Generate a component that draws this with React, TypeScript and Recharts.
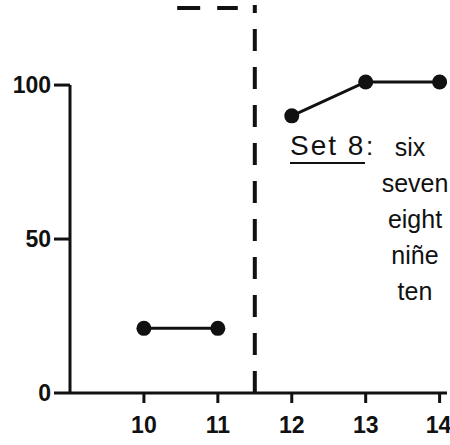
import React from "react";
import { LineChart, Line, XAxis, YAxis, ReferenceLine, Customized } from "recharts";

// trial sessions before the phase change
const phaseA = [
  { session: 10, score: 21 },
  { session: 11, score: 21 },
];
// trial sessions after the phase change
const phaseB = [
  { session: 12, score: 90 },
  { session: 13, score: 101 },
  { session: 14, score: 101 },
];

const xTicks = [10, 11, 12, 13, 14];
const yTicks = [0, 50, 100];
const phaseChangeAt = 11.5;
const topDash = [
  { x: 10.45, y: 125 },
  { x: 11.27, y: 125 },
];

const setLabel = "Set 8";
const setWords = ["six", "seven", "eight", "niñe", "ten"];

const tickFont = { fontFamily: "'Liberation Sans Narrow', 'Liberation Sans', Arial, sans-serif", fontWeight: 700, fontSize: 23, fill: "#111" };
const textFont = "'Liberation Sans', Arial, sans-serif";

const SetLegend = () => (
  <g fontFamily={textFont} fill="#111">
    <text x={290} y={155} fontSize={28} letterSpacing={2}>{setLabel}</text>
    <line x1={290} y1={163} x2={365} y2={163} stroke="#111" strokeWidth={2} />
    <text x={366} y={155} fontSize={26}>:</text>
    {setWords.map((w, i) => (
      <text key={w} x={i === 0 ? 410 : 415} y={156 + 36 * i} fontSize={25} textAnchor="middle">
        {w}
      </text>
    ))}
  </g>
);

export default function App() {
  return (
    <div style={{ position: "absolute", left: 0, top: 0, background: "#fff" }}>
      <LineChart width={450} height={445} margin={{ top: 5, right: 3, bottom: 0, left: 0 }}>
        <XAxis
          type="number"
          dataKey="session"
          domain={[9, 14.1]}
          ticks={xTicks}
          allowDataOverflow
          height={52}
          tick={tickFont}
          tickSize={10}
          tickMargin={14}
          axisLine={{ stroke: "#111", strokeWidth: 3 }}
          tickLine={{ stroke: "#111", strokeWidth: 3 }}
        />
        <YAxis
          type="number"
          domain={[0, 126]}
          ticks={yTicks}
          allowDataOverflow
          width={70}
          tick={tickFont}
          tickSize={16}
          tickMargin={3}
          axisLine={false}
          tickLine={{ stroke: "#111", strokeWidth: 3 }}
        />
        <ReferenceLine
          segment={[{ x: 9, y: 0 }, { x: 9, y: 100 }]}
          stroke="#111"
          strokeWidth={3}
        />
        <ReferenceLine x={phaseChangeAt} stroke="#111" strokeWidth={4} strokeDasharray="22 16" />
        <ReferenceLine segment={topDash} stroke="#111" strokeWidth={4} strokeDasharray="23 17" ifOverflow="visible" />
        <Line
          data={phaseA}
          dataKey="score"
          stroke="#111"
          strokeWidth={3}
          dot={{ r: 7.5, fill: "#111", stroke: "#111", strokeWidth: 0 }}
          isAnimationActive={false}
        />
        <Line
          data={phaseB}
          dataKey="score"
          stroke="#111"
          strokeWidth={3}
          dot={{ r: 7.5, fill: "#111", stroke: "#111", strokeWidth: 0 }}
          isAnimationActive={false}
        />
        <Customized component={<SetLegend />} />
      </LineChart>
    </div>
  );
}
